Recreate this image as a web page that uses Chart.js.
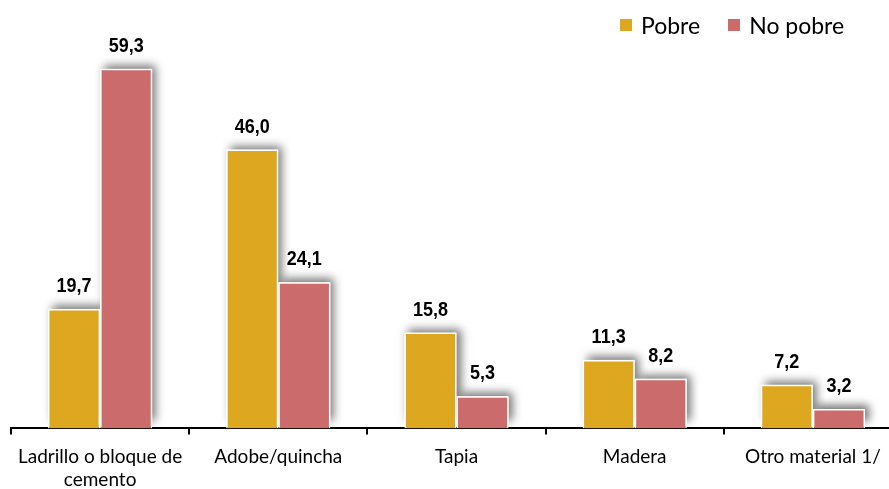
<!DOCTYPE html>
<html>
<head>
<meta charset="utf-8">
<script src="https://cdn.jsdelivr.net/npm/chart.js@4"></script>
<style>
  html, body { margin: 0; padding: 0; background: #fff; overflow: hidden; width: 889px; height: 489px; }
  #wrap { position: absolute; left: 0; top: 0; width: 902px; height: 502px; }
  #legend { position: absolute; top: 11px; left: 620px; font-family: Lato, 'Open Sans', sans-serif; font-size: 23px; color: #000; display: flex; align-items: center; white-space: nowrap; }
  #legend .sw { display: inline-block; width: 12px; height: 12px; margin-right: 9px; }
  #legend .item { display: flex; align-items: center; margin-right: 28px; }
</style>
</head>
<body>
<div id="wrap"><canvas id="c"></canvas></div>
<div id="legend"></div>
<script>
const categories = [['Ladrillo o bloque de', 'cemento'], 'Adobe/quincha', 'Tapia', 'Madera', 'Otro material 1/'];
const seriesNames = ['Pobre', 'No pobre'];
const pobre = [19.7, 46.0, 15.8, 11.3, 7.2];
const noPobre = [59.3, 24.1, 5.3, 8.2, 3.2];
const colors = ['#DDA820', '#CC6B6B'];

const legendEl = document.getElementById('legend');
seriesNames.forEach((n, i) => {
  const it = document.createElement('span');
  it.className = 'item';
  const sw = document.createElement('span');
  sw.className = 'sw';
  sw.style.background = colors[i];
  it.appendChild(sw);
  it.appendChild(document.createTextNode(n));
  legendEl.appendChild(it);
});

const shadowPlugin = {
  id: 'shadow',
  beforeDatasetsDraw(chart) {
    const ctx = chart.ctx;
    chart.data.datasets.forEach((ds, di) => {
      chart.getDatasetMeta(di).data.forEach((bar) => {
        const p = bar.getProps(['x', 'y', 'base', 'width'], true);
        ctx.save();
        ctx.shadowColor = 'rgba(0,0,0,0.55)';
        ctx.shadowBlur = 9;
        ctx.shadowOffsetX = 4;
        ctx.shadowOffsetY = -4;
        ctx.fillStyle = '#fff';
        ctx.fillRect(p.x - p.width / 2, p.y, p.width, p.base - p.y - 3);
        ctx.restore();
      });
    });
  }
};

const labelPlugin = {
  id: 'valueLabels',
  afterDatasetsDraw(chart) {
    const ctx = chart.ctx;
    chart.data.datasets.forEach((ds, di) => {
      chart.getDatasetMeta(di).data.forEach((bar, i) => {
        const txt = ds.data[i].toFixed(1).replace('.', ',');
        ctx.save();
        ctx.font = "bold 20px 'Liberation Sans', Arial, sans-serif";
        ctx.fillStyle = '#000';
        ctx.textAlign = 'center';
        ctx.textBaseline = 'alphabetic';
        ctx.translate(bar.x, bar.y - 17);
        ctx.scale(0.9, 1);
        ctx.fillText(txt, 0, 0);
        ctx.restore();
      });
    });
  }
};

new Chart(document.getElementById('c'), {
  type: 'bar',
  data: {
    labels: categories,
    datasets: [
      { label: seriesNames[0], data: pobre, backgroundColor: colors[0], borderColor: '#fff', borderWidth: 1.5 },
      { label: seriesNames[1], data: noPobre, backgroundColor: colors[1], borderColor: '#fff', borderWidth: 1.5 }
    ]
  },
  options: {
    responsive: true,
    maintainAspectRatio: false,
    animation: false,
    layout: { padding: { top: 4, left: 11, right: 0, bottom: 0 } },
    datasets: { bar: { categoryPercentage: 0.585, barPercentage: 1.0 } },
    plugins: { legend: { display: false }, tooltip: { enabled: false } },
    scales: {
      y: { display: false, min: 0, max: 70 },
      x: {
        border: { display: true, color: '#000', width: 2 },
        grid: { display: true, drawOnChartArea: false, drawTicks: true, tickLength: 6, color: '#000', lineWidth: 2, offset: true },
        ticks: { color: '#000', font: { family: 'Lato', size: 19, lineHeight: 1.2 }, padding: 11, maxRotation: 0, autoSkip: false }
      }
    }
  },
  plugins: [shadowPlugin, labelPlugin]
});
</script>
</body>
</html>
